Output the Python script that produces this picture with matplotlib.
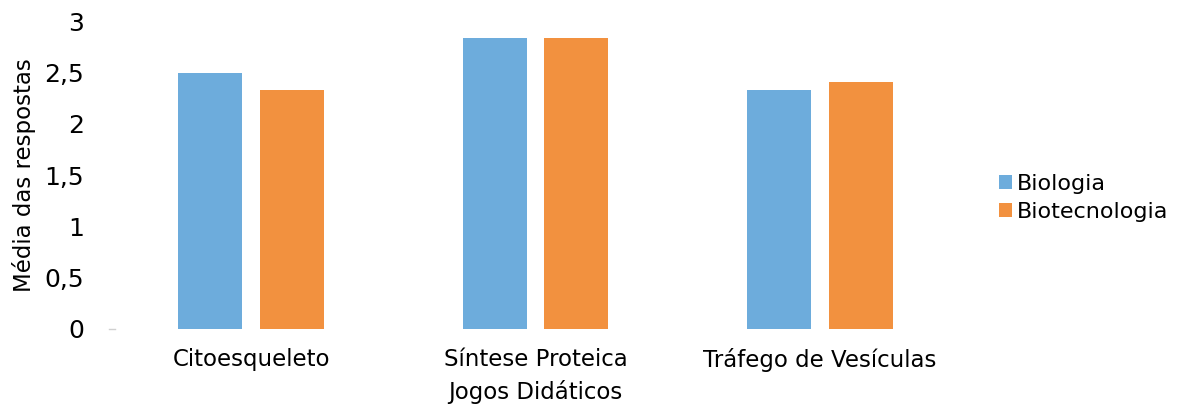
import matplotlib
matplotlib.use("Agg")
import matplotlib.pyplot as plt
import numpy as np

categories = ["Citoesqueleto", "Síntese Proteica", "Tráfego de Vesículas"]
biologia = [2.50, 2.84, 2.33]
biotecnologia = [2.33, 2.84, 2.41]
yticks = [0, 0.5, 1, 1.5, 2, 2.5, 3]
ytick_labels = ["0", "0,5", "1", "1,5", "2", "2,5", "3"]

BLUE = "#6dacdc"
ORANGE = "#f2913f"

plt.rcParams["font.family"] = ["DejaVu Sans"]

fig = plt.figure(figsize=(11.8, 4.11), dpi=100)
ax = fig.add_axes([109 / 1180, 1 - 328.5 / 411, (962 - 109) / 1180, (328.5 - 21.5) / 411])

x = np.arange(len(categories))
w = 0.225
off = 0.144
ax.bar(x - off, biologia, w, color=BLUE, label="Biologia")
ax.bar(x + off, biotecnologia, w, color=ORANGE, label="Biotecnologia")

ax.set_xlim(-0.5, len(categories) - 0.5)
ax.set_ylim(0, 3)
ax.set_yticks(yticks)
ax.set_yticklabels(ytick_labels, fontsize=18)
ax.set_xticks(x)
ax.set_xticklabels(categories, fontsize=16.5)
ax.tick_params(axis="y", length=0, pad=18)
ax.tick_params(axis="x", length=0, pad=14)
for s in ax.spines.values():
    s.set_visible(False)

# faint axis-end mark like the original
ax.plot([-0.5, -0.48], [0, 0], color="#d0d0d0", lw=1, clip_on=False)

ax.set_xlabel("Jogos Didáticos", fontsize=16.5, labelpad=6)
ax.set_ylabel("Média das respostas", fontsize=16.5, labelpad=6)

fig.legend(loc="center left", bbox_to_anchor=(999 / 1180, 1 - 198 / 411),
           frameon=False, fontsize=16, handlelength=0.6, handleheight=0.6,
           handletextpad=0.2, labelspacing=0.35, borderaxespad=0, borderpad=0)

fig.savefig("out.png", dpi=100)
